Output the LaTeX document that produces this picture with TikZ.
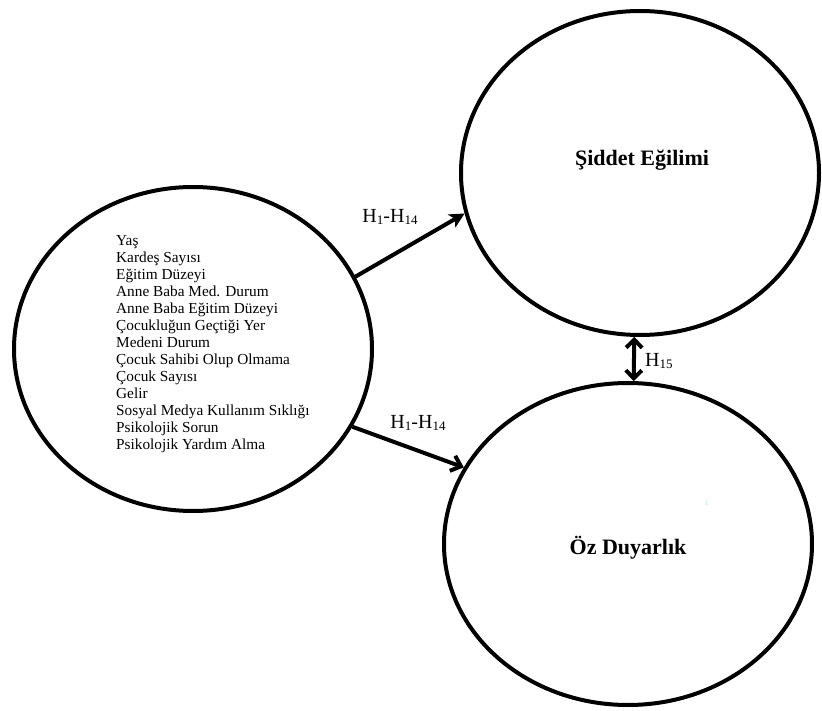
\documentclass[tikz,border=0pt]{standalone}
\usepackage{fontspec}
\setmainfont{Liberation Serif}
\usetikzlibrary{shapes.geometric,arrows.meta}
\tikzset{
  oval/.style={ellipse, draw=black, line width=4pt, inner sep=0pt},
  conn/.style={line width=4pt, black},
  hlabel/.style={font=\fontsize{20}{20}\selectfont, inner sep=0pt, text=black},
  listtext/.style={align=left, inner sep=0pt, font=\fontsize{15.3}{17}\selectfont, text=black},
  title/.style={font=\fontsize{22}{24}\selectfont\bfseries, inner sep=0pt}
}
\newcommand{\hsub}[1]{\raisebox{-1.5pt}{\fontsize{13}{13}\selectfont #1}}
\begin{document}
\begin{tikzpicture}[x=1pt,y=-1pt]
\useasboundingbox (0,0) rectangle (822,711);
% ellipses
\node[oval, minimum width=358pt, minimum height=324pt] (demo) at (193,349) {};
\node[oval, minimum width=358pt, minimum height=324pt] (sid) at (640,173) {};
\node[oval, minimum width=368pt, minimum height=322pt] (oz) at (628,544) {};
% texts
\node[title] (sidt) at (642,160) {Şiddet Eğilimi};
\node[title] (ozt) at (628,548) {Öz Duyarlık};
\node[listtext, anchor=north west] (list) at (116,235) {Yaş\\
Kardeş Sayısı\\
Eğitim Düzeyi\\
Anne Baba Med. Durum\\
Anne Baba Eğitim Düzeyi\\
Çocukluğun Geçtiği Yer\\
Medeni Durum\\
Çocuk Sahibi Olup Olmama\\
Çocuk Sayısı\\
Gelir\\
Sosyal Medya Kullanım Sıklığı\\
Psikolojik Sorun\\
Psikolojik Yardım Alma};
% connectors
\draw[conn, -{Stealth[length=15pt,width=15pt,inset=4pt]}] (demo.24) -- (sid.193);
\draw[conn, -{Straight Barb[length=9pt,width=16pt]}] (demo.-26) -- (oz.155);
\draw[conn, {Straight Barb[length=8pt,width=16pt]}-{Straight Barb[length=8pt,width=16pt]}] (sid.268) -- (oz.88);
% labels
\node[hlabel] (l1) at (390,217) {H\hsub{1}-H\hsub{14}};
\node[hlabel] (l2) at (418,423) {H\hsub{1}-H\hsub{14}};
\node[hlabel, anchor=west] (l3) at (645,361) {H\hsub{15}};
\node[inner sep=0pt, text=cyan!40, font=\fontsize{8}{8}\selectfont] (dot) at (707,503) {i};
\end{tikzpicture}
\end{document}
